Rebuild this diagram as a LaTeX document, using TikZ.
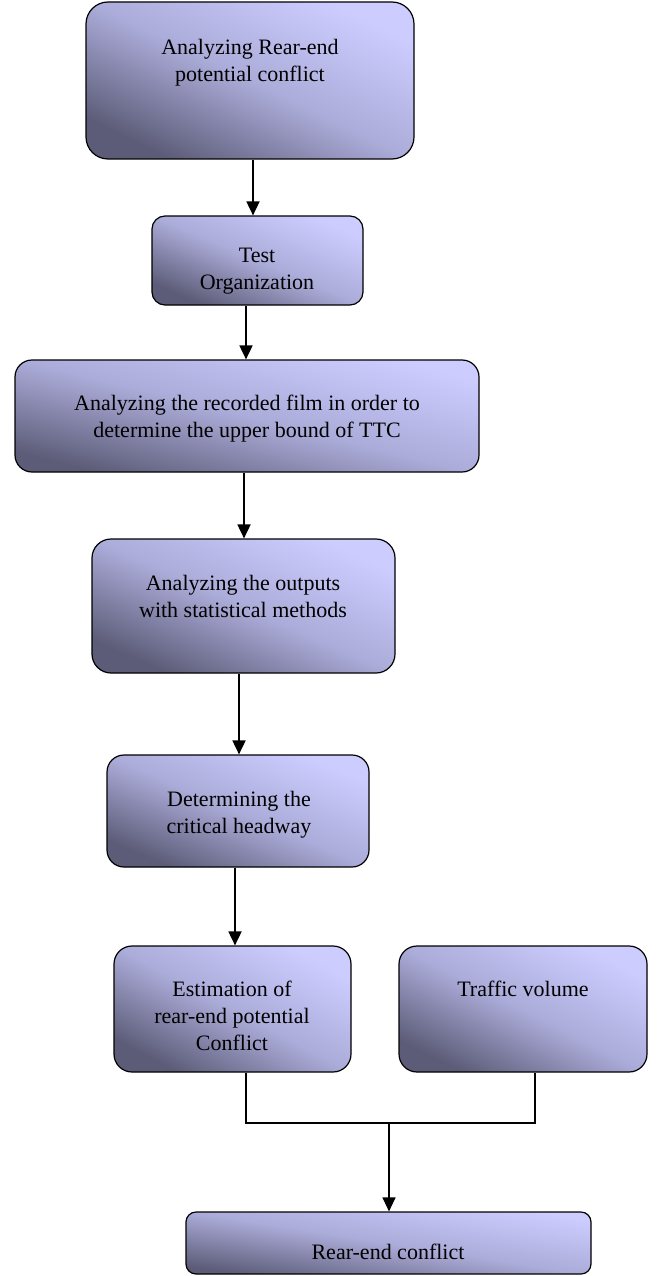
\documentclass[tikz,border=0pt]{standalone}
\usepackage{fontspec}
\setmainfont{Liberation Serif}
\usetikzlibrary{arrows.meta,positioning}
\definecolor{boxlight}{RGB}{204,204,255}
\definecolor{boxmid}{RGB}{172,172,218}
\definecolor{boxdark}{RGB}{92,92,120}

\begin{document}
\begin{tikzpicture}[
  x=1pt,y=-1pt,
  stage/.style={rectangle,draw=black,line width=1.2pt,top color=boxlight,bottom color=boxdark,middle color=boxmid,shading angle=#1,inner sep=0pt},
  stage/.default=-24,
  caption/.style={anchor=north,align=center,inner sep=0pt,font=\fontsize{22}{27}\selectfont},
  flow/.style={line width=1.8pt,-{Triangle[width=13pt,length=14pt]}},
  merge/.style={line width=1.2pt},
]
\useasboundingbox (0,0) rectangle (659,1276);

% boxes
\node[stage=-26,minimum width=328pt,minimum height=157pt,rounded corners=22pt] (s1) at (250,80.5) {};
\node[stage=-23,minimum width=211pt,minimum height=89pt,rounded corners=13pt] (s2) at (257.5,260.5) {};
\node[stage=-14,minimum width=464pt,minimum height=112pt,rounded corners=17pt] (s3) at (247,416) {};
\node[stage=-24,minimum width=303pt,minimum height=134pt,rounded corners=19pt] (s4) at (243.5,606) {};
\node[stage=-23,minimum width=262pt,minimum height=112pt,rounded corners=17pt] (s5) at (238,811) {};
\node[stage=-28,minimum width=237pt,minimum height=126pt,rounded corners=18pt] (s6) at (232.5,1009) {};
\node[stage=-27,minimum width=248pt,minimum height=126pt,rounded corners=18pt] (s7) at (523,1009) {};
\node[stage=-9,minimum width=405pt,minimum height=62pt,rounded corners=10pt] (s8) at (388.5,1243) {};

% texts
\node[caption] (c1) at (250,39) {Analyzing Rear-end\\potential conflict};
\node[caption] (c2) at (257,248) {Test\\Organization};
\node[caption] (c3) at (247,395) {Analyzing the recorded film in order to\\determine the upper bound of TTC};
\node[caption] (c4) at (243,575) {Analyzing the outputs\\with statistical methods};
\node[caption] (c5) at (239,791) {Determining the\\critical headway};
\node[caption] (c6) at (232,981) {Estimation of\\rear-end potential\\Conflict};
\node[caption] (c7) at (523,981) {Traffic volume};
\node[caption] (c8) at (388,1244) {Rear-end conflict};

% arrows
\draw[flow] ([xshift=3pt]s1.south) -- ([xshift=3pt]s1.south |- s2.north);
\draw[flow] ([xshift=-11.5pt]s2.south) -- ([xshift=-11.5pt]s2.south |- s3.north);
\draw[flow] ([xshift=-3pt]s3.south) -- ([xshift=-3pt]s3.south |- s4.north);
\draw[flow] ([xshift=-4.5pt]s4.south) -- ([xshift=-4.5pt]s4.south |- s5.north);
\draw[flow] ([xshift=-3pt]s5.south) -- ([xshift=-3pt]s5.south |- s6.north);

\coordinate (j) at (389,1123);
\draw[merge] ([xshift=13.5pt]s6.south) |- (j) -| ([xshift=12pt]s7.south);
\draw[merge,-{Triangle[width=13pt,length=14pt]}] (j) -- (j |- s8.north);
\end{tikzpicture}
\end{document}
